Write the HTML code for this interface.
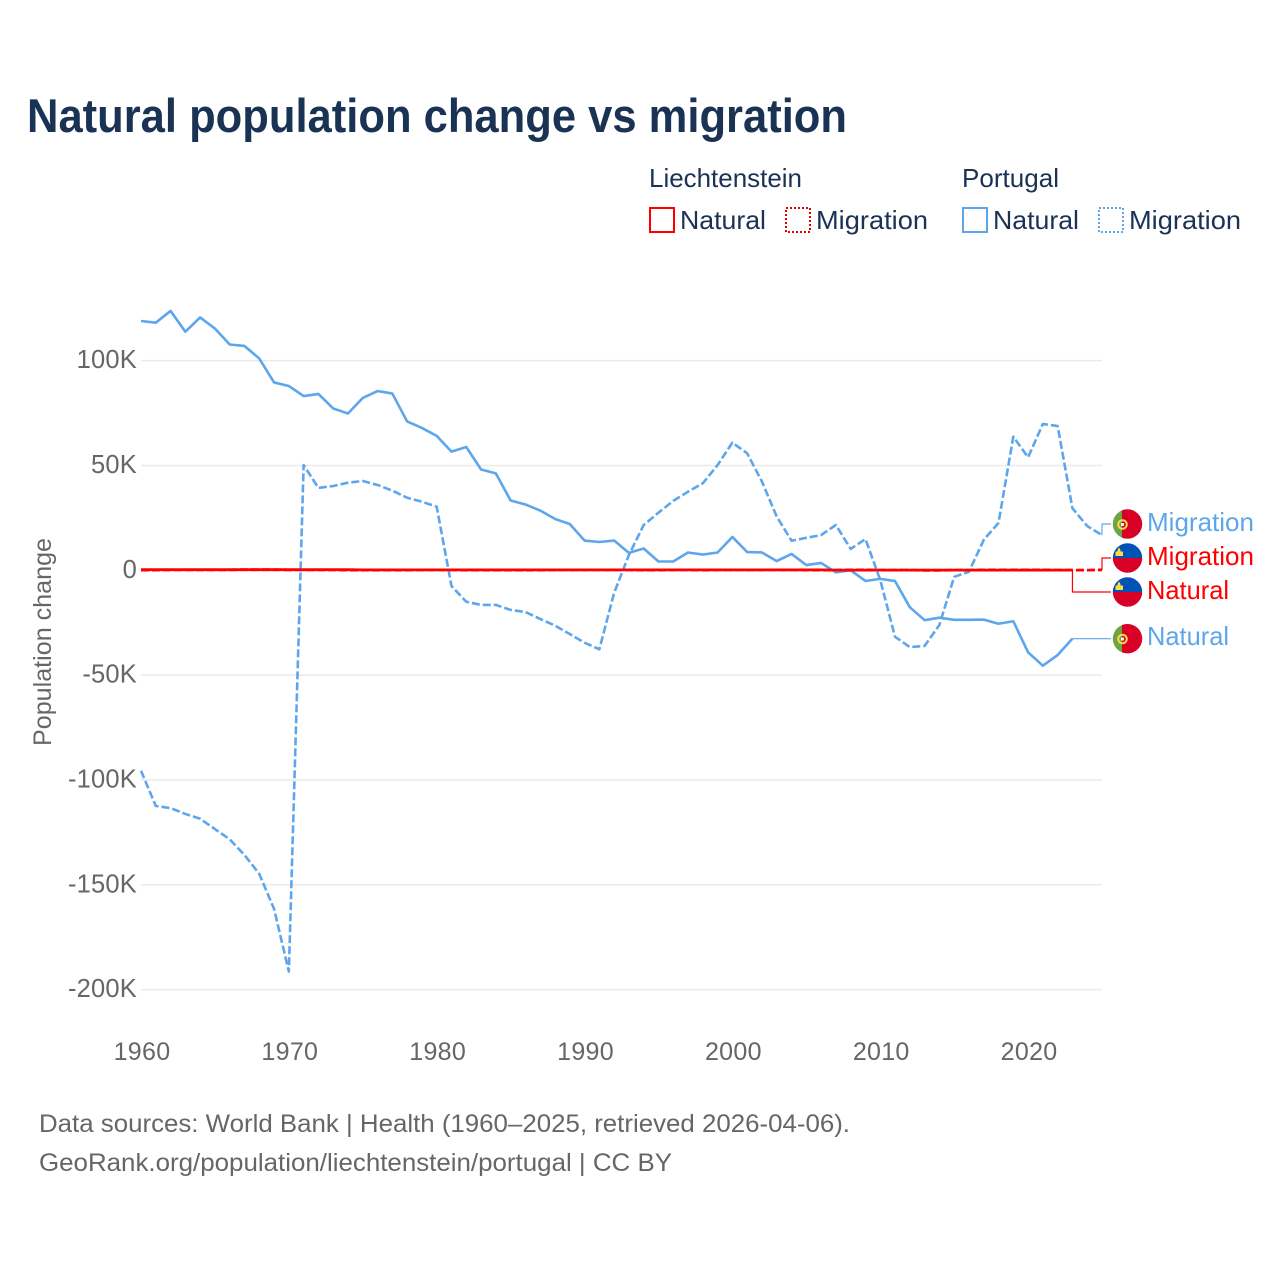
<!DOCTYPE html>
<html lang="en">
<head>
<meta charset="utf-8">
<title>Natural population change vs migration</title>
<style>
  html, body { margin: 0; padding: 0; background: #fff; }
  svg { display: block; }
  text { font-family: "Liberation Sans", sans-serif; }
</style>
</head>
<body>
<svg id="chart" xmlns="http://www.w3.org/2000/svg" width="1280" height="1280" viewBox="0 0 1280 1280">
  <defs>
    <clipPath id="flag-pt-a"><circle cx="1127.5" cy="524" r="14.7"/></clipPath>
    <clipPath id="flag-li-a"><circle cx="1127.5" cy="558" r="14.7"/></clipPath>
    <clipPath id="flag-li-b"><circle cx="1127.5" cy="592" r="14.7"/></clipPath>
    <clipPath id="flag-pt-b"><circle cx="1127.5" cy="638.7" r="14.7"/></clipPath>
  </defs>
  <rect width="1280" height="1280" fill="#fff"/>

  <text x="27" y="132" font-size="47" font-weight="700" fill="#1a3254" textLength="820" lengthAdjust="spacingAndGlyphs">Natural population change vs migration</text>

  <g font-size="26" fill="#1a3254">
    <text x="649" y="187" textLength="153" lengthAdjust="spacingAndGlyphs">Liechtenstein</text>
    <text x="962" y="187" textLength="97" lengthAdjust="spacingAndGlyphs">Portugal</text>
    <rect x="650" y="208" width="24" height="24" fill="none" stroke="#ff0000" stroke-width="2"/>
    <text x="680" y="229" textLength="86" lengthAdjust="spacingAndGlyphs">Natural</text>
    <rect x="786" y="208" width="24" height="24" fill="none" stroke="#e00000" stroke-width="2" stroke-dasharray="2 2"/>
    <text x="816" y="229" textLength="112" lengthAdjust="spacingAndGlyphs">Migration</text>
    <rect x="963" y="208" width="24" height="24" fill="none" stroke="#5ea6ec" stroke-width="2"/>
    <text x="993" y="229" textLength="86" lengthAdjust="spacingAndGlyphs">Natural</text>
    <rect x="1099" y="208" width="24" height="24" fill="none" stroke="#5ea6ec" stroke-width="2" stroke-dasharray="2 2"/>
    <text x="1129" y="229" textLength="112" lengthAdjust="spacingAndGlyphs">Migration</text>
  </g>

  <text transform="translate(51,746) rotate(-90)" font-size="25" fill="#666" textLength="208" lengthAdjust="spacingAndGlyphs">Population change</text>

  <g id="grid"></g>
  <g id="y-ticks"></g>
  <g id="x-ticks"></g>
  <g id="connectors"></g>
  <g id="series"></g>

  <g clip-path="url(#flag-pt-a)">
    <rect x="1112" y="509" width="12" height="30" fill="#6da544"/>
    <rect x="1122" y="509" width="21" height="30" fill="#d80027"/>
    <circle cx="1122.5" cy="524.5" r="4.3" fill="none" stroke="#ffda44" stroke-width="2"/>
    <rect x="1121" y="523" width="3" height="3" fill="#f5f5f5"/>
  </g>
  <g clip-path="url(#flag-li-a)">
    <rect x="1112" y="543" width="31" height="15" fill="#0052b4"/>
    <rect x="1112" y="558" width="31" height="15" fill="#d80027"/>
    <path d="M1115.5 556v-4.5h2v-1.5l1.5-2.5 1.5 2.500v1.500h2.500v4.500z" fill="#ffda44"/>
  </g>
  <g clip-path="url(#flag-li-b)">
    <rect x="1112" y="577" width="31" height="15" fill="#0052b4"/>
    <rect x="1112" y="592" width="31" height="15" fill="#d80027"/>
    <path d="M1115.5 590v-4.5h2v-1.5l1.5-2.5 1.500 2.500v1.500h2.500v4.500z" fill="#ffda44"/>
  </g>
  <g clip-path="url(#flag-pt-b)">
    <rect x="1112" y="623" width="12" height="31" fill="#6da544"/>
    <rect x="1122" y="623" width="21" height="31" fill="#d80027"/>
    <circle cx="1122.5" cy="639" r="4.3" fill="none" stroke="#ffda44" stroke-width="2"/>
    <rect x="1121" y="637.500" width="3" height="3" fill="#f5f5f5"/>
  </g>

  <g font-size="26">
    <text x="1147" y="531" fill="#5ea6ec" textLength="107" lengthAdjust="spacingAndGlyphs">Migration</text>
    <text x="1147" y="565" fill="#ff0000" textLength="107" lengthAdjust="spacingAndGlyphs">Migration</text>
    <text x="1147" y="599" fill="#ff0000" textLength="82" lengthAdjust="spacingAndGlyphs">Natural</text>
    <text x="1147" y="645" fill="#5ea6ec" textLength="82" lengthAdjust="spacingAndGlyphs">Natural</text>
  </g>

  <g font-size="25" fill="#666">
    <text x="39" y="1132" textLength="811" lengthAdjust="spacingAndGlyphs">Data sources: World Bank | Health (1960–2025, retrieved 2026-04-06).</text>
    <text x="39" y="1171" textLength="633" lengthAdjust="spacingAndGlyphs">GeoRank.org/population/liechtenstein/portugal | CC BY</text>
  </g>
</svg>

<script>
// Values in thousands of people per year, starting at firstYear.
const firstYear = 1960;
const yTickValues = [100, 50, 0, -50, -100, -150, -200];
const yTickLabels = ["100K", "50K", "0", "-50K", "-100K", "-150K", "-200K"];
const xTickYears = [1960, 1970, 1980, 1990, 2000, 2010, 2020];
const portugalNatural = [
  118.9, 118.1, 123.7, 113.8, 120.6, 115.3, 107.7, 107.0, 101.0, 89.6,
  87.9, 83.1, 84.1, 77.2, 74.8, 82.2, 85.5, 84.3, 71.0, 67.9,
  64.1, 56.6, 58.8, 48.1, 46.2, 33.3, 31.4, 28.5, 24.5, 22.1,
  14.2, 13.5, 14.2, 8.3, 10.4, 4.2, 4.2, 8.5, 7.5, 8.5,
  15.9, 8.7, 8.5, 4.4, 7.8, 2.5, 3.5, -1.0, 0.0, -5.1,
  -4.1, -5.1, -17.6, -23.8, -22.6, -23.6, -23.6, -23.5, -25.5, -24.3,
  -39.1, -45.5, -40.4, -32.6
];
const portugalMigration = [
  -95.6, -112.4, -113.4, -116.2, -118.5, -123.4, -128.3, -135.8, -144.8, -161.5,
  -191.4, 50.2, 39.3, 40.2, 41.8, 42.6, 40.7, 38.0, 34.6, 32.7,
  30.3, -7.5, -15.0, -16.5, -16.5, -18.9, -19.9, -23.2, -26.4, -30.4,
  -34.5, -37.7, -10.8, 7.3, 21.6, 27.5, 33.1, 37.5, 41.5, 50.2,
  60.9, 55.8, 42.3, 25.6, 14.1, 15.5, 16.8, 21.6, 10.2, 14.9,
  -4.6, -31.7, -36.6, -36.1, -26.1, -3.1, -0.7, 14.5, 22.6, 63.7,
  53.9, 69.8, 68.8, 29.6, 21.1, 16.8
];
const liechtensteinNatural = [
  0.3, 0.3, 0.3, 0.3, 0.3, 0.3, 0.3, 0.3, 0.3, 0.3,
  0.3, 0.3, 0.3, 0.3, 0.3, 0.2, 0.2, 0.2, 0.2, 0.2,
  0.2, 0.2, 0.2, 0.2, 0.2, 0.2, 0.2, 0.2, 0.2, 0.2,
  0.2, 0.2, 0.2, 0.2, 0.2, 0.2, 0.2, 0.2, 0.2, 0.2,
  0.2, 0.2, 0.2, 0.2, 0.2, 0.2, 0.2, 0.1, 0.1, 0.1,
  0.1, 0.1, 0.1, 0.1, 0.1, 0.1, 0.1, 0.1, 0.1, 0.1,
  0.1, 0.1, 0.1, 0.1
];
const liechtensteinMigration = [
  0.1, 0.1, 0.2, 0.2, 0.2, 0.2, 0.2, 0.3, 0.3, 0.3,
  0.2, 0.2, 0.2, 0.2, 0.1, 0.1, 0.1, 0.1, 0.1, 0.2,
  0.2, 0.2, 0.1, 0.1, 0.1, 0.1, 0.1, 0.1, 0.2, 0.2,
  0.2, 0.2, 0.2, 0.2, 0.1, 0.1, 0.2, 0.2, 0.1, 0.2,
  0.2, 0.2, 0.2, 0.2, 0.2, 0.1, 0.1, 0.1, 0.2, 0.2,
  0.1, 0.1, 0.1, 0.0, 0.0, 0.1, 0.1, 0.2, 0.2, 0.2,
  0.2, 0.2, 0.1, 0.1, 0.1, 0.2
];

const NS = "http://www.w3.org/2000/svg";
const xScale = function (year) { return 141 + (year - 1960) * (961 / 65); };
const yScale = function (value) { return 570.3 - value * 2.0967; };
const BLUE = "#5ea6ec";
const RED = "#ff0000";

function make(tag, parentId) {
  const el = document.createElementNS(NS, tag);
  document.getElementById(parentId).appendChild(el);
  return el;
}
function linePath(values) {
  return values.map(function (v, i) {
    return (i ? "L" : "M") + xScale(firstYear + i).toFixed(2) + " " + yScale(v).toFixed(2);
  }).join("");
}

yTickValues.forEach(function (v, i) {
  const line = make("line", "grid");
  
  
  line.setAttribute("x1", 141);
  line.setAttribute("x2", 1102);
  line.setAttribute("y1", yScale(v));
  line.setAttribute("y2", yScale(v));
  line.setAttribute("stroke", "#eaeaea");
  line.setAttribute("stroke-width", 1.5);

  const label = make("text", "y-ticks");
  
  
  label.setAttribute("x", 137);
  label.setAttribute("y", yScale(v) + 7.5);
  label.setAttribute("text-anchor", "end");
  label.setAttribute("font-size", 25.5);
  label.setAttribute("letter-spacing", "0.2");
  label.setAttribute("fill", "#666");
  label.textContent = yTickLabels[i];
});

xTickYears.forEach(function (year) {
  const label = make("text", "x-ticks");
  
  
  label.setAttribute("x", xScale(year) + 1);
  label.setAttribute("y", 1060);
  label.setAttribute("text-anchor", "middle");
  label.setAttribute("font-size", 25);
  label.setAttribute("letter-spacing", "0.3");
  label.setAttribute("fill", "#666");
  label.textContent = String(year);
});

function addSeries(name, values, color, dashed, width) {
  const path = make("path", "series");
  
  
  path.setAttribute("d", linePath(values));
  path.setAttribute("fill", "none");
  path.setAttribute("stroke", color);
  path.setAttribute("stroke-width", width);
  path.setAttribute("stroke-linejoin", "round");
  if (dashed) path.setAttribute("stroke-dasharray", "8 3");
}
addSeries("line-portugal-natural", portugalNatural, BLUE, false, 2.6);
addSeries("line-portugal-migration", portugalMigration, BLUE, true, 2.6);
addSeries("line-liechtenstein-natural", liechtensteinNatural, RED, false, 2.8);
addSeries("line-liechtenstein-migration", liechtensteinMigration, RED, true, 2.8);

function addConnector(name, values, color, targetY) {
  const i = values.length - 1;
  const x0 = xScale(firstYear + i);
  const y0 = yScale(values[i]);
  const path = make("path", "connectors");
  
  
  path.setAttribute("d", "M" + x0 + " " + y0 + "V" + targetY + "H1111");
  path.setAttribute("fill", "none");
  path.setAttribute("stroke", color);
  path.setAttribute("stroke-width", 1.2);
}
addConnector("connector-portugal-migration", portugalMigration, BLUE, 524);
addConnector("connector-liechtenstein-migration", liechtensteinMigration, RED, 558);
addConnector("connector-liechtenstein-natural", liechtensteinNatural, RED, 592);
addConnector("connector-portugal-natural", portugalNatural, BLUE, 638.7);
</script>
</body>
</html>
